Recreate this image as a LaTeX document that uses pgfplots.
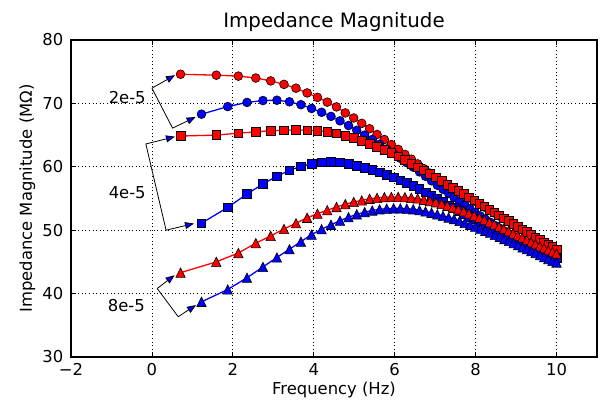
\documentclass[border=0pt]{standalone}
\usepackage{fontspec}
\setmainfont{DejaVu Sans}
\usepackage{pgfplots}
\pgfplotsset{compat=1.18}
\usepackage{pgfplotstable}
\usetikzlibrary{arrows.meta}

% isosceles triangle marker, as wide as it is tall
\pgfdeclareplotmark{tri}{%
  \pgfpathmoveto{\pgfqpoint{0pt}{\pgfplotmarksize}}%
  \pgfpathlineto{\pgfqpoint{-\pgfplotmarksize}{-\pgfplotmarksize}}%
  \pgfpathlineto{\pgfqpoint{\pgfplotmarksize}{-\pgfplotmarksize}}%
  \pgfpathclose
  \pgfusepathqfillstroke}

% red sweeps: circles (2e-5), squares (4e-5), triangles (8e-5)
\pgfplotstableread{
x      rc     rs     rt
0.707  74.60  64.85  43.30
1.591  74.45  65.00  45.00
2.136  74.30  65.30  46.40
2.567  74.00  65.50  47.95
2.936  73.55  65.70  49.10
3.264  73.00  65.75  50.20
3.561  72.40  65.85  51.10
3.836  71.65  65.75  51.95
4.092  70.95  65.70  52.60
4.333  70.20  65.50  53.15
4.561  69.45  65.30  53.65
4.779  68.50  64.90  54.10
4.987  67.70  64.60  54.45
5.186  66.85  64.10  54.70
5.379  66.00  63.65  54.95
5.564  65.10  63.15  55.10
5.744  64.30  62.65  55.20
5.918  63.50  62.20  55.25
6.087  62.75  61.65  55.25
6.252  61.95  61.10  55.20
6.412  61.20  60.50  55.10
6.568  60.45  59.95  55.00
6.721  59.70  59.45  54.80
6.870  59.00  58.85  54.60
7.017  58.30  58.35  54.40
7.160  57.75  57.75  54.15
7.300  57.20  57.20  53.85
7.438  56.65  56.70  53.60
7.573  56.10  56.20  53.30
7.706  55.60  55.70  53.00
7.837  55.10  55.20  52.65
7.966  54.60  54.70  52.30
8.092  54.10  54.20  51.95
8.216  53.65  53.75  51.60
8.339  53.15  53.25  51.25
8.460  52.70  52.80  50.90
8.579  52.25  52.35  50.55
8.697  51.80  51.90  50.20
8.813  51.35  51.45  49.85
8.927  50.90  51.00  49.50
9.040  50.50  50.55  49.15
9.152  50.05  50.15  48.80
9.262  49.65  49.70  48.45
9.371  49.20  49.30  48.10
9.479  48.80  48.90  47.80
9.585  48.40  48.50  47.45
9.691  48.00  48.10  47.15
9.795  47.60  47.70  46.85
9.898  47.20  47.35  46.55
10.000 46.85  47.00  46.30
}\redtab

% blue sweeps: circles (2e-5), squares (4e-5), triangles (8e-5)
\pgfplotstableread{
x      bc     bs     bt
1.225  68.30  51.10  38.70
1.874  69.50  53.60  40.65
2.350  70.15  55.70  42.50
2.744  70.45  57.30  44.20
3.089  70.50  58.50  45.70
3.399  70.25  59.45  47.00
3.683  69.80  60.05  48.20
3.946  69.20  60.45  49.30
4.193  68.60  60.70  50.15
4.426  67.95  60.75  50.85
4.648  67.25  60.70  51.50
4.859  66.50  60.45  52.05
5.062  65.75  60.15  52.50
5.257  65.00  59.80  52.85
5.445  64.30  59.50  53.10
5.626  63.55  59.15  53.30
5.802  62.80  58.75  53.40
5.973  62.10  58.35  53.45
6.139  61.35  57.90  53.45
6.300  60.65  57.50  53.40
6.458  59.95  57.00  53.30
6.612  59.20  56.50  53.15
6.762  58.50  56.00  52.95
6.909  57.80  55.45  52.75
7.053  57.10  54.95  52.50
7.194  56.45  54.45  52.25
7.333  55.80  53.95  52.00
7.468  55.15  53.50  51.75
7.602  54.55  53.05  51.45
7.733  53.95  52.60  51.15
7.862  53.35  52.15  50.85
7.989  52.80  51.75  50.55
8.113  52.25  51.35  50.25
8.236  51.75  50.95  49.90
8.358  51.25  50.55  49.60
8.477  50.75  50.15  49.25
8.595  50.30  49.80  48.95
8.711  49.85  49.40  48.60
8.825  49.40  49.05  48.30
8.939  49.00  48.70  47.95
9.050  48.60  48.35  47.65
9.161  48.20  48.00  47.30
9.270  47.80  47.70  47.00
9.378  47.45  47.35  46.70
9.484  47.10  47.05  46.40
9.590  46.75  46.75  46.05
9.694  46.40  46.45  45.75
9.797  46.05  46.15  45.45
9.899  45.75  45.85  45.15
10.000 45.45  45.55  44.90
}\bluetab

\newcommand{\lblfont}{\fontsize{16.4}{19}\selectfont}

\begin{document}
\begin{tikzpicture}
\begin{axis}[
  name=ax,
  scale only axis,
  width=526pt, height=317pt,
  xmin=-2, xmax=11, ymin=30, ymax=80,
  xtick={-2,0,2,4,6,8,10},
  xticklabels={−2,0,2,4,6,8,10},
  ytick={30,40,50,60,70,80},
  /pgf/number format/assume math mode=true,
  tick align=inside,
  major tick length=5pt,
  tick style={black, line width=0.7pt},
  axis line style={line width=1.1pt},
  grid=major,
  major grid style={black, line width=0.7pt, dash pattern=on 1pt off 2.6pt},
  ticklabel style={font=\lblfont},
  xticklabel style={inner sep=0pt, yshift=-6pt},
  yticklabel style={inner sep=0pt, xshift=-7.5pt},
  title={Impedance Magnitude},
  title style={font=\fontsize{19.8}{23}\selectfont, at={(axis description cs:0.5,1)},
               anchor=base, yshift=6.7pt, inner sep=0pt},
  xlabel={Frequency (Hz)},
  xlabel style={font=\lblfont, at={(axis description cs:0.5,0)},
                anchor=base, yshift=-38pt, inner sep=0pt},
  ylabel={Impedance Magnitude (MΩ)},
  ylabel style={font=\lblfont, at={(axis description cs:0,0.5)},
                anchor=base, rotate=0, yshift=39pt, inner sep=0pt},
  every axis plot/.append style={line width=1.3pt},
]
% 2e-5
\addplot[red, mark=*, mark size=4.4pt, mark options={solid, fill=red, draw=black, line width=0.6pt}]
  table[x=x, y=rc] {\redtab};
\addplot[blue, mark=*, mark size=4.4pt, mark options={solid, fill=blue, draw=black, line width=0.6pt}]
  table[x=x, y=bc] {\bluetab};
% 4e-5
\addplot[red, mark=square*, mark size=4.3pt, mark options={solid, fill=red, draw=black, line width=0.6pt}]
  table[x=x, y=rs] {\redtab};
\addplot[blue, mark=square*, mark size=4.3pt, mark options={solid, fill=blue, draw=black, line width=0.6pt}]
  table[x=x, y=bs] {\bluetab};
% 8e-5
\addplot[red, mark=tri, mark size=4.7pt, mark options={solid, fill=red, draw=black, line width=0.6pt}]
  table[x=x, y=rt] {\redtab};
\addplot[blue, mark=tri, mark size=4.7pt, mark options={solid, fill=blue, draw=black, line width=0.6pt}]
  table[x=x, y=bt] {\bluetab};

% concentration labels with their pointers
\tikzset{ptr/.style={black, line width=0.8pt, line join=miter,
  -{Triangle[length=9pt, width=7pt, fill=blue]}}}
\node[font=\lblfont, anchor=base east, inner sep=0pt] at (axis cs:-0.15,70.05) {2e-5};
\draw[ptr] (axis cs:0,72.4) -- (axis cs:0.57,74.45);
\draw[ptr] (axis cs:0,72.4) -- (axis cs:0.51,66.1) -- (axis cs:1.08,67.85);

\node[font=\lblfont, anchor=base east, inner sep=0pt] at (axis cs:-0.15,55.03) {4e-5};
\draw[ptr] (axis cs:-0.15,63.6) -- (axis cs:0.57,64.75);
\draw[ptr] (axis cs:-0.15,63.6) -- (axis cs:0.35,50.0) -- (axis cs:1.04,51.05);

\node[font=\lblfont, anchor=base east, inner sep=0pt] at (axis cs:-0.17,37.15) {8e-5};
\draw[ptr] (axis cs:0.13,40.8) -- (axis cs:0.56,42.9);
\draw[ptr] (axis cs:0.13,40.8) -- (axis cs:0.65,36.35) -- (axis cs:1.09,38.2);
\end{axis}
\pgfresetboundingbox
\path ([shift={(-71pt,-58pt)}]ax.south west) rectangle ([shift={(18pt,40pt)}]ax.north east);
\end{tikzpicture}
\end{document}
